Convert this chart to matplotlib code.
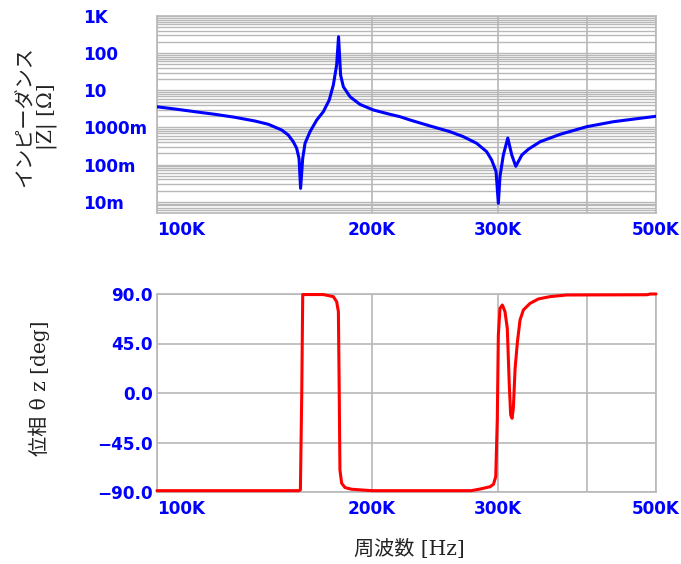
import matplotlib
matplotlib.use("Agg")
import matplotlib.pyplot as plt
from matplotlib.ticker import FixedLocator, FixedFormatter, NullLocator, LogLocator, NullFormatter

# ---- data ----
freq_z_khz = [100.0, 106.0, 113.0, 120.6, 128.6, 137.2, 143.2, 149.5, 152.7, 155.2,
              156.9, 158.1, 158.9, 160.0, 161.2, 163.8, 167.4, 171.0, 174.3, 176.6,
              178.5, 179.6, 180.8, 182.4, 186.4, 192.5, 201.0, 212.1, 219.0, 226.2,
              241.2, 257.3, 268.6, 280.4, 289.6, 294.3, 298.5, 300.7, 302.3, 305.6,
              310.0, 314.0, 318.1, 324.4, 331.3, 344.1, 366.9, 399.9, 435.7, 475.1,
              500.0]
impedance_ohm = [3.6, 3.14, 2.66, 2.26, 1.88, 1.49, 1.22, 0.855, 0.628, 0.414,
                 0.275, 0.148, 0.023, 0.148, 0.375, 0.77, 1.59, 2.66, 5.5, 13.9,
                 48, 277, 25.6, 12.5, 6.7, 4.17, 2.95, 2.26, 1.95, 1.59,
                 1.10, 0.77, 0.566, 0.375, 0.223, 0.133, 0.065, 0.0091, 0.048, 0.182,
                 0.52, 0.182, 0.09, 0.182, 0.26, 0.414, 0.654, 1.05, 1.43, 1.77,
                 2.0]

freq_p_khz = [100.0, 158.0, 158.8, 159.5, 160.0, 171.0, 176.6, 178.5, 179.5, 180.0,
              180.4, 181.4, 183.4, 187.4, 200.0, 275.5, 283.5, 292.8, 296.0, 298.2,
              299.7, 300.7, 302.3, 304.6, 307.2, 309.5, 311.5, 312.9, 314.3, 315.6,
              317.4, 319.8, 322.5, 326.0, 333.1, 342.1, 355.2, 374.9, 485.6, 490.9,
              500.0]
phase_deg = [-88.8, -88.8, -88.0, 0.0, 89.5, 89.5, 87.6, 83.0, 74.0, 0.0,
             -70.0, -82.0, -86.0, -87.5, -88.8, -88.8, -87.3, -85.2, -83.0, -76.0,
             -23.0, 52.7, 77.0, 80.0, 74.0, 58.8, 7.3, -20.0, -23.0, -13.9,
             22.4, 46.7, 66.4, 75.5, 81.5, 85.5, 87.6, 89.1, 89.3, 90.0,
             90.0]

x_ticks_khz = [100, 200, 300, 400, 500]
x_tick_labels = ["100K", "200K", "300K", "", "500K"]
z_ticks = [1e-2, 1e-1, 1, 10, 100, 1000]
z_tick_labels = ["10m", "100m", "1000m", "10", "100", "1K"]
phase_ticks = [-90, -45, 0, 45, 90]
phase_tick_labels = ["\u221290.0", "\u221245.0", "0.0", "45.0", "90.0"]

label_family = ["DejaVu Serif", "Noto Sans CJK JP"]
tick_color = "#0000ff"
grid_color = "#b8b8b8"

fig = plt.figure(figsize=(6.81, 5.64), dpi=100)
ax1 = fig.add_axes([157 / 681, 1 - 213 / 564, 499 / 681, 197 / 564])
ax2 = fig.add_axes([157 / 681, 1 - 492 / 564, 499 / 681, 198 / 564])

fx = [f * 1e3 for f in freq_z_khz]
px = [f * 1e3 for f in freq_p_khz]
xt = [f * 1e3 for f in x_ticks_khz]

ax1.plot(fx, impedance_ohm, color="#0000ff", lw=2.2, zorder=3,
         solid_joinstyle="round", solid_capstyle="round")
ax2.plot(px, phase_deg, color="#ff0000", lw=2.2, zorder=3, clip_on=False,
         solid_joinstyle="round", solid_capstyle="round")

for ax in (ax1, ax2):
    ax.set_xscale("log")
    ax.set_xlim(1e5, 5e5)
    ax.xaxis.set_major_locator(FixedLocator(xt))
    ax.xaxis.set_major_formatter(FixedFormatter(x_tick_labels))
    ax.xaxis.set_minor_locator(NullLocator())
    ax.xaxis.set_minor_formatter(NullFormatter())
    ax.tick_params(axis="both", which="both", length=0, labelcolor=tick_color)
    ax.tick_params(axis="x", pad=6)
    for sp in ax.spines.values():
        sp.set_color(grid_color)
        sp.set_linewidth(1.2)
    ax.grid(True, which="major", axis="x", color=grid_color, lw=1.2)
    ax.set_axisbelow(True)

ax1.set_yscale("log")
ax1.set_ylim(5e-3, 1e3)
ax1.yaxis.set_major_locator(FixedLocator(z_ticks))
ax1.yaxis.set_major_formatter(FixedFormatter(z_tick_labels))
ax1.yaxis.set_minor_locator(LogLocator(base=10, subs=[2, 3, 4, 5, 6, 7, 8, 9], numticks=50))
ax1.yaxis.set_minor_formatter(NullFormatter())
ax1.grid(True, which="both", axis="y", color=grid_color, lw=1.0)
ax1.tick_params(axis="y", pad=53.3)

ax2.set_ylim(-90, 90)
ax2.yaxis.set_major_locator(FixedLocator(phase_ticks))
ax2.yaxis.set_major_formatter(FixedFormatter(phase_tick_labels))
ax2.grid(True, which="major", axis="y", color=grid_color, lw=1.2)
ax2.tick_params(axis="y", pad=3)

for ax in (ax1, ax2):
    for lab in ax.get_xticklabels() + ax.get_yticklabels():
        lab.set_fontfamily("DejaVu Sans")
        lab.set_fontweight("bold")
        lab.set_fontsize(12.2)
    ax.get_xticklabels()[0].set_ha("left")

for lab in ax1.get_yticklabels():
    lab.set_ha("left")

fig.text(36 / 681, 1 - 117 / 564, "インピーダンス\n|Z| [Ω]", rotation=90,
         ha="center", va="center", multialignment="center",
         family=label_family, fontsize=14.5, color="#222222", linespacing=1.2)
fig.text(39 / 681, 1 - 388 / 564, "位相 θ z [deg]", rotation=90,
         ha="center", va="center", family=label_family, fontsize=14.5, color="#222222")
fig.text(409 / 681, 1 - 549 / 564, "周波数 [Hz]", ha="center", va="center",
         family=label_family, fontsize=14.5, color="#222222")

fig.savefig("out.png", dpi=100)
